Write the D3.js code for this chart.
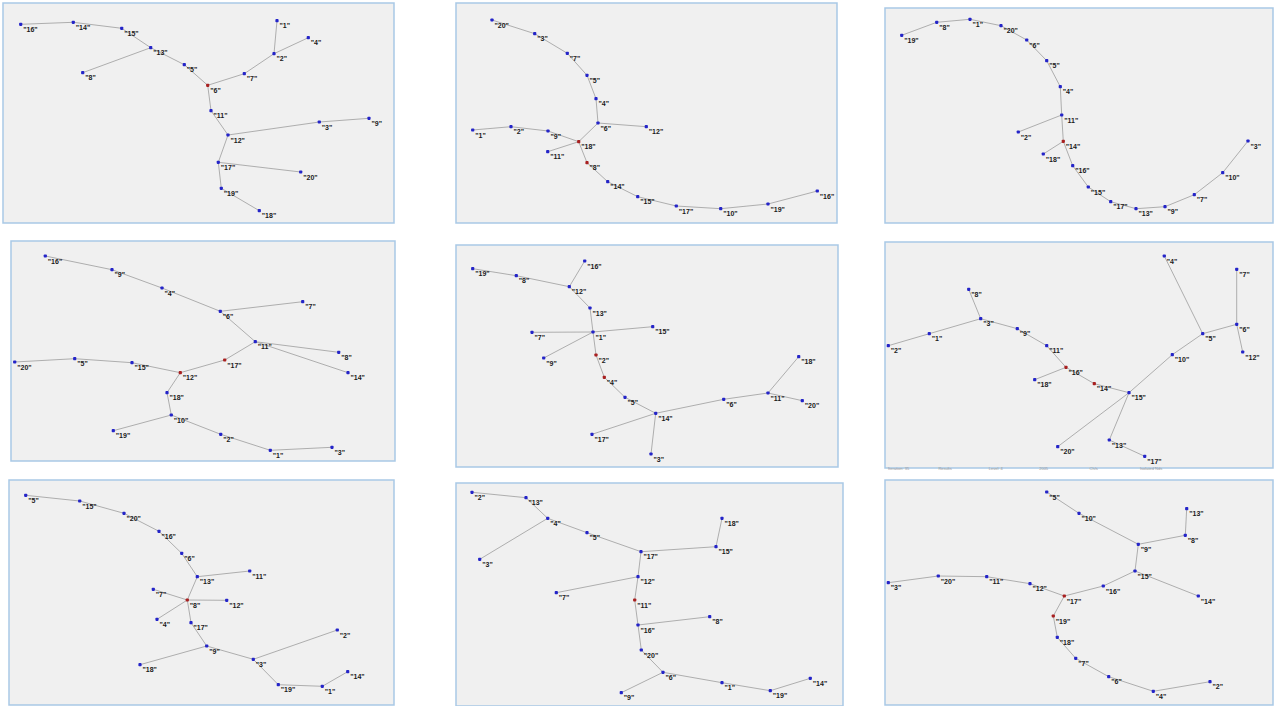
<!DOCTYPE html>
<html>
<head>
<meta charset="utf-8">
<script src="https://cdn.jsdelivr.net/npm/d3@7"></script>
<style>
body { margin: 0; background: #fff; }
</style>
</head>
<body>
<script>
const W = 1274
const H = 706

// node layouts: [label, x, y] inside each panel's crop
const panel1Nodes = [["16",20.7,24.3],["14",73.3,22.3],["15",121.7,28.3],["13",150.7,47.7],["8",82.7,72.7],["5",184.3,64.7],["6",207.7,85.3],["7",244.3,73.7],["2",274,53.7],["1",277,20.7],["4",308.3,37.7],["11",211,110.7],["12",228,135],["3",319.3,122],["9",369,118.3],["17",218.3,162.3],["20",300.7,172],["19",221.3,188.3],["18",259.3,210.7]]
const panel1Links = [["16","14"],["14","15"],["15","13"],["13","8"],["13","5"],["5","6"],["6","7"],["7","2"],["2","1"],["2","4"],["6","11"],["11","12"],["12","3"],["3","9"],["12","17"],["17","20"],["17","19"],["19","18"]]
const panel1Red = ["6"]

const panel2Nodes = [["20",40,20],["3",82.7,33.7],["7",115.3,53.3],["5",135,75.3],["4",144,98.7],["6",146,123],["12",194.3,126.7],["1",20.7,130],["2",59,126.7],["9",96,131],["18",126.7,141.7],["11",95.7,151.7],["8",135,162.7],["14",155.7,181.7],["15",185.7,196.7],["17",224.3,206],["10",268.7,208.7],["19",316,204],["16",365.3,191]]
const panel2Links = [["20","3"],["3","7"],["7","5"],["5","4"],["4","6"],["6","12"],["6","18"],["1","2"],["2","9"],["9","18"],["18","11"],["18","8"],["8","14"],["14","15"],["15","17"],["17","10"],["10","19"],["19","16"]]
const panel2Red = ["18","8"]

const panel3Nodes = [["19",21.7,35.3],["8",56.7,22.3],["1",90,19.3],["20",121,25.7],["6",146.7,40],["5",166.7,60.7],["4",180.3,86.7],["11",181.7,115],["2",138.3,132],["14",183.3,141.3],["18",163.3,154],["16",192.7,165.7],["15",208.3,187],["17",230.7,201.7],["13",256,208.7],["9",285,206.7],["7",314.3,194.7],["10",342.7,172.7],["3",368,141]]
const panel3Links = [["19","8"],["8","1"],["1","20"],["20","6"],["6","5"],["5","4"],["4","11"],["11","14"],["11","2"],["14","18"],["14","16"],["16","15"],["15","17"],["17","13"],["13","9"],["9","7"],["7","10"],["10","3"]]
const panel3Red = ["14"]

const panel4Nodes = [["16",37.3,20],["9",104,33.7],["4",154,52],["6",212.3,75.3],["7",294.7,65.7],["11",247.3,105.7],["8",330.7,116.3],["14",340,136.7],["17",216.7,124],["12",172.3,136.7],["20",6.7,126],["5",66.7,122.7],["15",124,126.7],["18",159,156.7],["10",163.3,179],["19",105.3,194.7],["2",212.7,198.3],["1",262.3,214.3],["3",324,211.3]]
const panel4Links = [["16","9"],["9","4"],["4","6"],["6","7"],["6","11"],["11","8"],["11","14"],["11","17"],["17","12"],["20","5"],["5","15"],["15","12"],["12","18"],["18","10"],["10","19"],["10","2"],["2","1"],["1","3"]]
const panel4Red = ["17","12"]

const panel5Nodes = [["19",20.7,28.7],["8",64.3,35.7],["12",117.3,46.7],["16",132.7,21],["13",138,68],["1",141,92],["7",80,92.3],["15",200.7,86.7],["9",91.7,118],["2",144,115],["4",152.3,137.3],["5",173,157.3],["14",203.7,173.3],["17",140,194.3],["3",199,214],["6",271.7,159.3],["11",316,153],["18",346.7,116.7],["20",350.3,160.7]]
const panel5Links = [["19","8"],["8","12"],["12","16"],["12","13"],["13","1"],["1","7"],["1","15"],["1","9"],["1","2"],["2","4"],["4","5"],["5","14"],["14","17"],["14","3"],["14","6"],["6","11"],["11","18"],["11","20"]]
const panel5Red = ["2","4"]

const panel6Nodes = [["4",284.3,16],["7",356.7,29.3],["6",356.7,84.3],["12",362.7,112],["5",322.7,93.7],["10",292.3,114.7],["15",249,152.7],["20",177.7,206.7],["13",229.3,200],["17",264.7,216.3],["14",214.3,143.7],["16",186,127.3],["18",154.7,139.7],["11",166.7,105.7],["9",137.3,88.7],["3",100.7,78.7],["8",88.7,49.3],["1",49.3,93.7],["2",8.3,105.7]]
const panel6Links = [["4","5"],["7","6"],["6","12"],["6","5"],["5","10"],["10","15"],["15","20"],["15","13"],["13","17"],["15","14"],["14","16"],["16","18"],["16","11"],["11","9"],["9","3"],["3","8"],["3","1"],["1","2"]]
const panel6Red = ["14","16"]
const panel6Status = ["Iteration: 35", "Results", "Level: 4", "2005", "Ch/s", "Isolated Nds"]

const panel7Nodes = [["5",21.7,19.3],["15",75.7,25],["20",120,37.3],["16",155,55.3],["6",177.7,77.3],["13",193.3,100.7],["11",245.7,95],["7",149.3,113.3],["8",183.3,124],["12",222.7,124.3],["4",153,143.3],["17",187,146.7],["9",202.7,170],["18",136,188.7],["3",249.3,183.3],["2",333.3,154],["19",274.3,208.7],["1",318.3,210.3],["14",343.7,195.7]]
const panel7Links = [["5","15"],["15","20"],["20","16"],["16","6"],["6","13"],["13","11"],["13","8"],["8","7"],["8","12"],["8","4"],["8","17"],["17","9"],["9","18"],["9","3"],["3","2"],["3","19"],["19","1"],["1","14"]]
const panel7Red = ["8"]

const panel8Nodes = [["2",20,12.3],["13",74,17.7],["4",95.7,38.3],["3",27.7,79.3],["5",135,52.7],["17",189,71.7],["15",264,66.7],["18",270,38.3],["12",186,96.7],["7",104.3,112.7],["11",182.7,120],["16",186,145],["8",257.7,136.7],["20",189.3,170],["6",211,192.3],["9",169.3,212.7],["1",270,202.7],["19",318.3,210.7],["14",358.3,198.3]]
const panel8Links = [["2","13"],["13","4"],["4","3"],["4","5"],["5","17"],["17","15"],["15","18"],["17","12"],["12","7"],["12","11"],["11","16"],["16","8"],["16","20"],["20","6"],["6","9"],["6","1"],["1","19"],["19","14"]]
const panel8Red = ["11"]

const panel9Nodes = [["5",166.7,16],["10",199,37.3],["9",258.3,68.3],["8",305.3,59.3],["13",306.7,32.7],["15",255,95],["14",318.3,120],["16",223.3,110],["17",184.3,120],["12",150,107.7],["11",106.7,100.7],["20",58.3,100],["3",8.3,106.7],["19",173.3,140],["18",177.3,161.3],["7",195.7,182.3],["6",228.7,200.7],["4",273.3,215.3],["2",330,205.7]]
const panel9Links = [["5","10"],["10","9"],["9","8"],["8","13"],["9","15"],["15","14"],["15","16"],["16","17"],["17","12"],["12","11"],["11","20"],["20","3"],["17","19"],["19","18"],["18","7"],["7","6"],["6","4"],["4","2"]]
const panel9Red = ["17","19"]

const panels = [
	{nodes: panel1Nodes, links: panel1Links, red: panel1Red, ox: 0, oy: 0, frame: [3, 3, 391, 220]},
	{nodes: panel2Nodes, links: panel2Links, red: panel2Red, ox: 452, oy: 0, frame: [4, 3, 381, 220]},
	{nodes: panel3Nodes, links: panel3Links, red: panel3Red, ox: 880, oy: 0, frame: [5, 8, 388, 215]},
	{nodes: panel4Nodes, links: panel4Links, red: panel4Red, ox: 8, oy: 236, frame: [3, 5, 384, 220]},
	{nodes: panel5Nodes, links: panel5Links, red: panel5Red, ox: 452, oy: 240, frame: [4, 5, 382, 222]},
	{nodes: panel6Nodes, links: panel6Links, red: panel6Red, ox: 880, oy: 240, frame: [5, 2, 388, 226], status: panel6Status},
	{nodes: panel7Nodes, links: panel7Links, red: panel7Red, ox: 4, oy: 476, frame: [5, 4, 385, 225]},
	{nodes: panel8Nodes, links: panel8Links, red: panel8Red, ox: 452, oy: 480, frame: [4, 3, 387, 223]},
	{nodes: panel9Nodes, links: panel9Links, red: panel9Red, ox: 880, oy: 476, frame: [5, 4, 388, 225]}
]

const svg = d3.select("body")
	.append("svg")
	.attr("width", W)
	.attr("height", H)

panels.forEach(function(p) {
	let xScale = d3.scaleLinear().domain([0, 400]).range([p.ox, p.ox + 400])
	let yScale = d3.scaleLinear().domain([0, 230]).range([p.oy, p.oy + 230])

	let g = svg.append("g")

	g.append("rect")
		.attr("x", xScale(p.frame[0]))
		.attr("y", yScale(p.frame[1]))
		.attr("width", p.frame[2])
		.attr("height", p.frame[3])
		.attr("fill", "#f0f0f0")
		.attr("stroke", "#a9c9e6")
		.attr("stroke-width", 1.5)

	let byLabel = new Map(p.nodes.map(d => [d[0], d]))

	g.selectAll("line")
		.data(p.links)
		.enter()
		.append("line")
		.attr("x1", d => xScale(byLabel.get(d[0])[1]))
		.attr("y1", d => yScale(byLabel.get(d[0])[2]))
		.attr("x2", d => xScale(byLabel.get(d[1])[1]))
		.attr("y2", d => yScale(byLabel.get(d[1])[2]))
		.attr("stroke", "#a6a6a6")
		.attr("stroke-width", 0.9)

	g.selectAll("rect.node")
		.data(p.nodes)
		.enter()
		.append("rect")
		.attr("class", "node")
		.attr("x", d => xScale(d[1]) - 1.6)
		.attr("y", d => yScale(d[2]) - 1.6)
		.attr("width", 3.2)
		.attr("height", 3.2)
		.attr("rx", 0.8)
		.attr("fill", d => p.red.includes(d[0]) ? "#a82020" : "#2424c8")

	g.selectAll("text.lbl")
		.data(p.nodes)
		.enter()
		.append("text")
		.attr("class", "lbl")
		.attr("x", d => xScale(d[1]) + 2.5)
		.attr("y", d => yScale(d[2]) + 7.5)
		.attr("font-family", "Liberation Sans, Arial, sans-serif")
		.attr("font-weight", "bold")
		.attr("font-size", 7)
		.attr("fill", "#1a1a1a")
		.text(d => "\"" + d[0] + "\"")

	if (p.status) {
		let sx = d3.scalePoint().domain(p.status).range([xScale(8), xScale(260)])
		g.selectAll("text.status")
			.data(p.status)
			.enter()
			.append("text")
			.attr("class", "status")
			.attr("x", d => sx(d))
			.attr("y", yScale(229.5))
			.attr("font-family", "Liberation Sans, Arial, sans-serif")
			.attr("font-size", 4)
			.attr("fill", "#999")
			.text(d => d)
	}
})
</script>
</body>
</html>
